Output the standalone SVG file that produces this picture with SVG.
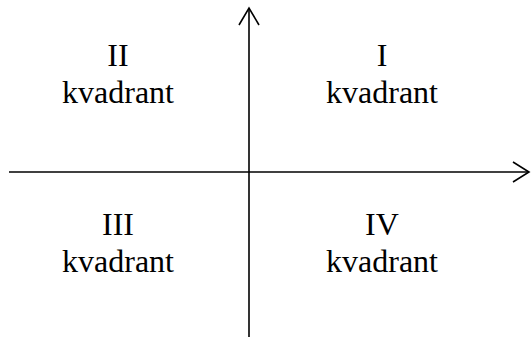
<svg xmlns="http://www.w3.org/2000/svg" width="531" height="337" viewBox="0 0 531 337">
<style>
.ax{stroke:#000;stroke-width:1.6;fill:none}
.t{font-family:"Liberation Serif","Times New Roman",serif;font-size:32px;fill:#000;text-anchor:middle}
</style>
<rect width="531" height="337" fill="#fff"/>
<g id="connectors">
<line class="ax" x1="9" y1="172" x2="529" y2="172"/>
<polyline class="ax" points="513,162 529,172 513,182"/>
<line class="ax" x1="249" y1="337" x2="249" y2="8"/>
<polyline class="ax" points="239,25 249,8 259,25"/>
</g>
<g id="q1"><text class="t" x="382" y="66">I</text><text class="t" x="382" y="103">kvadrant</text></g>
<g id="q2"><text class="t" x="118" y="66">II</text><text class="t" x="118" y="103">kvadrant</text></g>
<g id="q3"><text class="t" x="118" y="235">III</text><text class="t" x="118" y="272">kvadrant</text></g>
<g id="q4"><text class="t" x="382" y="235">IV</text><text class="t" x="382" y="272">kvadrant</text></g>
</svg>
